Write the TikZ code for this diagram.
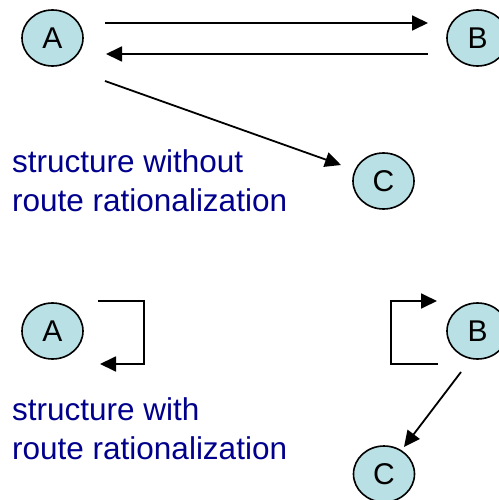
\documentclass[tikz,border=0pt]{standalone}
\usepackage{fontspec}
\setmainfont{Liberation Sans}
\usetikzlibrary{arrows.meta,shapes.geometric}
\definecolor{nodefill}{RGB}{185,224,228}
\definecolor{labelblue}{RGB}{0,0,140}
\tikzset{
  station/.style={ellipse, draw=black, line width=1.6pt, fill=nodefill,
    minimum width=61pt, minimum height=56pt, inner sep=0pt,
    font=\fontsize{30}{32}\selectfont},
  route/.style={line width=1.8pt, -{Triangle[length=16pt,width=15pt]}},
  caption/.style={anchor=north west, inner sep=0pt, align=left,
    text=labelblue, font=\fontsize{31.5}{39}\selectfont}
}
\begin{document}
\begin{tikzpicture}[x=1pt,y=-1pt]
\useasboundingbox (0,0) rectangle (498,500);

% upper network: no route rationalization
\node[station] (A1) at (52.5,38) {A};
\node[station] (B1) at (477.5,38) {B};
\node[station] (C1) at (383.5,181) {C};
\coordinate (ab-s) at (105,23);
\coordinate (ab-e) at (428,23);
\coordinate (ba-s) at (428,54);
\coordinate (ba-e) at (106,54);
\coordinate (ac-s) at (105,81);
\coordinate (ac-e) at (341,165);
\draw[route] (ab-s) -- (ab-e);
\draw[route] (ba-s) -- (ba-e);
\draw[route] (ac-s) -- (ac-e);
\node[caption] (cap1) at (12,149) {structure without\\route rationalization};

% lower network: with route rationalization
\node[station] (A2) at (52.5,331) {A};
\node[station] (B2) at (477.5,331) {B};
\node[station] (C2) at (384,474) {C};
\coordinate (la-s) at (98,301);
\coordinate (la-c) at (144,364);
\coordinate (la-e) at (100,364);
\coordinate (lb-s) at (438,364);
\coordinate (lb-c) at (391,301);
\coordinate (lb-e) at (437,301);
\coordinate (bc-s) at (461,372);
\coordinate (bc-e) at (404,447);
\draw[route] (la-s) -| (la-c) -- (la-e);
\draw[route] (lb-s) -| (lb-c) -- (lb-e);
\draw[route] (bc-s) -- (bc-e);
\node[caption] (cap2) at (12,397) {structure with\\route rationalization};
\end{tikzpicture}
\end{document}
